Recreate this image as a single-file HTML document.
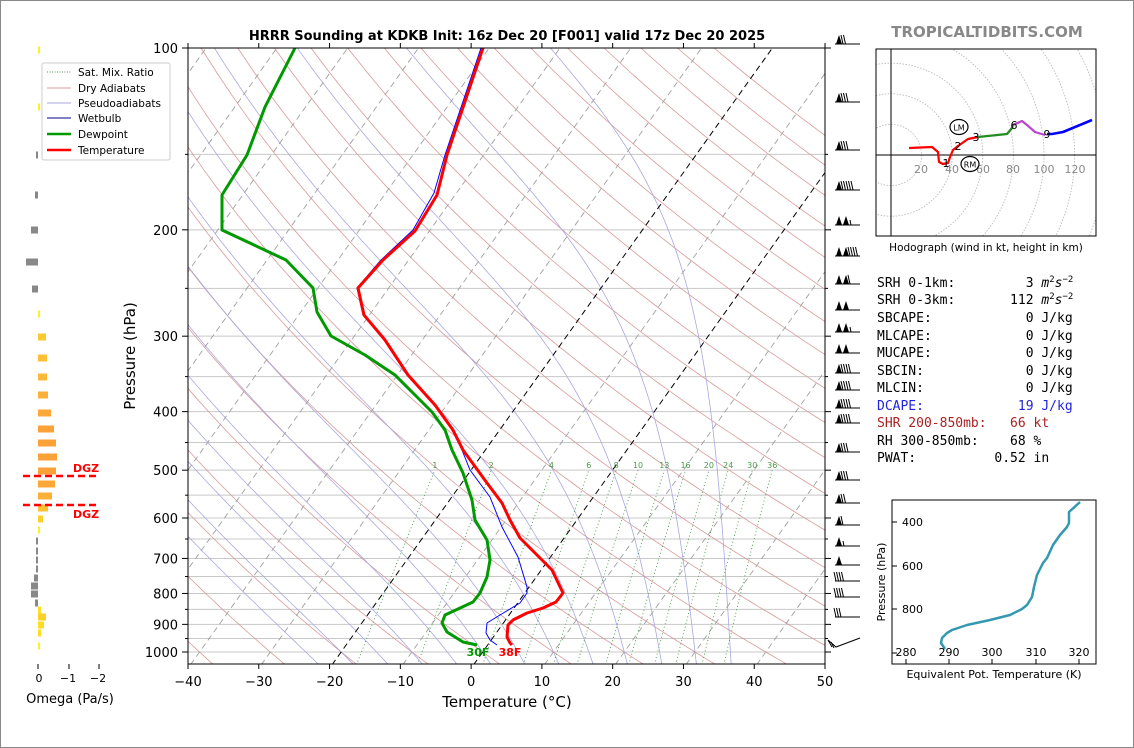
<!DOCTYPE html>
<html><head><meta charset="utf-8">
<style>
html,body{margin:0;padding:0;background:#fff;}
svg{display:block;font-family:"DejaVu Sans","Liberation Sans",sans-serif;}
.pre text{white-space:pre;}
</style></head>
<body>
<svg id="s" width="1134" height="748" viewBox="0 0 1134 748" xmlns="http://www.w3.org/2000/svg">
<rect x="0.5" y="0.5" width="1133" height="747" fill="#fff" stroke="#888" stroke-width="1"/>
<defs><clipPath id="cp"><rect x="188" y="48" width="637" height="616"/></clipPath>
<clipPath id="ch"><rect x="876" y="49" width="220" height="187"/></clipPath></defs>
<g id="bg" clip-path="url(#cp)"></g>
<g clip-path="url(#cp)" fill="none" stroke-linejoin="round">
<polyline stroke="#0000ff" stroke-width="1" points="481,48 445,155 434,193 413,230 381,260 357,288 363,315 384,340 407,375 434,405 452,430 462,450 470,470 490,497 502,527 518,557 527,587 527,593 520,603 500,615 487,623 486,633 490,640 497,645"/>
<polyline stroke="#009900" stroke-width="3" points="295,48 265,107 247,155 222,195 222,230 286,260 313,288 317,312 331,336 365,355 395,375 415,395 432,412 445,430 452,450 463,473 472,500 475,520 487,540 490,560 487,577 480,593 473,602 445,615 442,623 447,632 463,642 477,645"/>
<polyline stroke="#ff0000" stroke-width="3" points="483,48 447,155 437,195 415,231 383,260 358,288 364,315 385,340 408,375 435,405 453,430 463,450 487,483 502,503 510,520 520,538 535,553 552,570 563,593 556,602 543,608 527,613 513,620 508,625 507,637 510,643 512,645"/>
</g>
<text x="478" y="656" fill="#009900" font-size="11" font-weight="bold" text-anchor="middle">30F</text>
<text x="510" y="656" fill="#ff0000" font-size="11" font-weight="bold" text-anchor="middle">38F</text>
<rect x="188" y="48" width="637" height="616" fill="none" stroke="#000" stroke-width="1"/>
<g id="axes" font-size="13" fill="#000"></g>
<text x="507" y="40" font-size="13" font-weight="bold" text-anchor="middle">HRRR Sounding at KDKB Init: 16z Dec 20 [F001] valid 17z Dec 20 2025</text>
<text x="507" y="707" font-size="15" text-anchor="middle">Temperature (°C)</text>
<text transform="translate(135,356) rotate(-90)" font-size="15" text-anchor="middle">Pressure (hPa)</text>
<g font-size="10.5">
<rect x="42" y="63" width="128" height="97" rx="2" fill="#fff" stroke="#ccc"/>
<line x1="47" y1="72" x2="71" y2="72" stroke="#4a9a4a" stroke-dasharray="1,1.5"/><text x="78" y="76">Sat. Mix. Ratio</text>
<line x1="47" y1="88" x2="71" y2="88" stroke="#d8a0a0"/><text x="78" y="92">Dry Adiabats</text>
<line x1="47" y1="103" x2="71" y2="103" stroke="#a8a8e0"/><text x="78" y="107">Pseudoadiabats</text>
<line x1="47" y1="118" x2="71" y2="118" stroke="#000088"/><text x="78" y="122">Wetbulb</text>
<line x1="47" y1="134" x2="71" y2="134" stroke="#009900" stroke-width="2.5"/><text x="78" y="138">Dewpoint</text>
<line x1="47" y1="150" x2="71" y2="150" stroke="#ff0000" stroke-width="2.5"/><text x="78" y="154">Temperature</text>
</g>
<g id="omega"></g>
<g stroke="#ff0000" stroke-width="2.5" stroke-dasharray="7,4">
<line x1="23" y1="476" x2="98" y2="476"/><line x1="23" y1="505" x2="98" y2="505"/></g>
<text x="73" y="472" fill="#ff0000" font-size="11" font-weight="bold">DGZ</text>
<text x="73" y="518" fill="#ff0000" font-size="11" font-weight="bold">DGZ</text>
<g font-size="11" text-anchor="middle">
<line x1="38" y1="664" x2="38" y2="669" stroke="#000"/><line x1="69" y1="664" x2="69" y2="669" stroke="#000"/><line x1="99" y1="664" x2="99" y2="669" stroke="#000"/>
<text x="39" y="682">0</text><text x="68" y="682">−1</text><text x="98" y="682">−2</text></g>
<text x="70" y="703" font-size="13" text-anchor="middle">Omega (Pa/s)</text>
<g id="barbs"></g>
<text x="987" y="37" font-size="15" font-weight="bold" fill="#888" text-anchor="middle">TROPICALTIDBITS.COM</text>
<g id="hodo" clip-path="url(#ch)"></g>
<rect x="876" y="49" width="220" height="187" fill="none" stroke="#000"/>
<g font-size="11" fill="#888" text-anchor="middle"><text x="921" y="173">20</text><text x="952" y="173">40</text><text x="983" y="173">60</text><text x="1013" y="173">80</text><text x="1044" y="173">100</text><text x="1075" y="173">120</text></g>
<g fill="none" stroke-width="2.2" stroke-linejoin="round">
<polyline stroke="#ff0000" points="909,148 932,147 938,152 939,162 943,164 948,163 950,157 953,150 958,146 968,139 978,137"/>
<polyline stroke="#228b22" points="978,137 1007,134 1012,128 1013,125"/>
<polyline stroke="#bb44cc" points="1013,125 1022,121 1027,125 1035,132 1045,135"/>
<polyline stroke="#0000ff" stroke-width="2.6" points="1047,134 1052,134 1063,132 1092,120"/>
</g>
<g font-size="11" text-anchor="middle"><text x="946" y="167">1</text><text x="958" y="150">2</text><text x="976" y="141">3</text><text x="1014" y="129">6</text><text x="1047" y="138">9</text></g>
<ellipse cx="959" cy="127" rx="9" ry="7.5" fill="none" stroke="#000" stroke-width="1.2"/><text x="959" y="130.5" font-size="8" text-anchor="middle">LM</text>
<ellipse cx="970" cy="164" rx="9" ry="7.5" fill="none" stroke="#000" stroke-width="1.2"/><text x="970" y="167.5" font-size="8" text-anchor="middle">RM</text>
<text x="986" y="251" font-size="10.5" text-anchor="middle">Hodograph (wind in kt, height in km)</text>
<g class="pre" font-family="'DejaVu Sans Mono','Liberation Mono',monospace" font-size="13">
<text x="877" y="287">SRH 0-1km:         3 <tspan font-style="italic">m</tspan><tspan font-size="9" dy="-5">2</tspan><tspan dy="5" font-style="italic">s</tspan><tspan font-size="9" dy="-5">−2</tspan></text>
<text x="877" y="304">SRH 0-3km:       112 <tspan font-style="italic">m</tspan><tspan font-size="9" dy="-5">2</tspan><tspan dy="5" font-style="italic">s</tspan><tspan font-size="9" dy="-5">−2</tspan></text>
<text x="877" y="322">SBCAPE:            0 J/kg</text>
<text x="877" y="340">MLCAPE:            0 J/kg</text>
<text x="877" y="357">MUCAPE:            0 J/kg</text>
<text x="877" y="375">SBCIN:             0 J/kg</text>
<text x="877" y="392">MLCIN:             0 J/kg</text>
<text x="877" y="410" fill="#2222dd">DCAPE:            19 J/kg</text>
<text x="877" y="427" fill="#aa2222">SHR 200-850mb:   66 kt</text>
<text x="877" y="445">RH 300-850mb:    68 %</text>
<text x="877" y="462">PWAT:          0.52 in</text>
</g>
<rect x="892" y="500" width="204" height="164" fill="none" stroke="#000"/>
<polyline fill="none" stroke="#3399b0" stroke-width="2.5" stroke-linejoin="round" points="1080,502 1069,512 1069,523 1067,527 1060,535 1053,545 1047,558 1043,563 1037,575 1034,587 1032,597 1027,605 1022,609 1010,615 990,620 967,625 952,630 947,633 942,638 941,643 945,649"/>
<g font-size="11">
<line x1="892" y1="522" x2="897" y2="522" stroke="#000"/><line x1="892" y1="566" x2="897" y2="566" stroke="#000"/><line x1="892" y1="609" x2="897" y2="609" stroke="#000"/><line x1="892" y1="653" x2="897" y2="653" stroke="#000"/>
<text x="923" y="526" text-anchor="end">400</text><text x="923" y="570" text-anchor="end">600</text><text x="923" y="613" text-anchor="end">800</text>
<g text-anchor="middle"><text x="906" y="656">280</text><text x="949" y="656">290</text><text x="992" y="656">300</text><text x="1036" y="656">310</text><text x="1079" y="656">320</text></g>
<g stroke="#000"><line x1="906" y1="664" x2="906" y2="659"/><line x1="949" y1="664" x2="949" y2="659"/><line x1="992" y1="664" x2="992" y2="659"/><line x1="1036" y1="664" x2="1036" y2="659"/><line x1="1079" y1="664" x2="1079" y2="659"/></g>
<text x="994" y="678" text-anchor="middle">Equivalent Pot. Temperature (K)</text>
<text transform="translate(885,582) rotate(-90)" text-anchor="middle">Pressure (hPa)</text>
</g>
</svg>
<script>
(function(){
var NS="http://www.w3.org/2000/svg";
function el(p,t,a,txt){var e=document.createElementNS(NS,t);for(var k in a)e.setAttribute(k,a[k]);if(txt!=null)e.textContent=txt;p.appendChild(e);return e;}
function Y(p){return 48+604*Math.log10(p/100);}
function X(T,p){return 191+(T+40)*7.078+(664-Y(p))*0.714;}
var bg=document.getElementById('bg');
for(var p=100;p<=1000;p+=50){el(bg,'line',{x1:188,x2:825,y1:Y(p),y2:Y(p),stroke:'#c8c8c8','stroke-width':1});}
for(var t0=-60;t0<=200;t0+=10){var th=t0+273.15,pts=[];for(var q=1050;q>=100;q-=10){pts.push(X(th*Math.pow(q/1000,0.286)-273.15,q).toFixed(1)+','+Y(q).toFixed(1));}
el(bg,'polyline',{points:pts.join(' '),fill:'none',stroke:'#d89a9a','stroke-width':0.8});}
function es(T){return 6.112*Math.exp(17.67*T/(T+243.5));}
function dT(p,Tk){var Tc=Tk-273.15,e=es(Tc),r=0.622*e/(p-e);var Rd=287.04,Cp=1005.7,Lv=2.501e6;return (Rd*Tk+Lv*r)/(Cp+Lv*Lv*r*0.622/(Rd*Tk*Tk))/p;}
for(var m=-25;m<=35;m+=5){var Tk=m+273.15,up=[],dn=[],T=Tk,q;
for(q=1000;q>=100;q-=2){up.push(X(T-273.15,q).toFixed(1)+','+Y(q).toFixed(1));T-=dT(q,T)*2;}
T=Tk;for(q=1000;q<=1052;q+=2){dn.unshift(X(T-273.15,q).toFixed(1)+','+Y(q).toFixed(1));T+=dT(q,T)*2;}
el(bg,'polyline',{points:dn.concat(up).join(' '),fill:'none',stroke:'#a8a8e0','stroke-width':0.8});}
for(var t=-130;t<=60;t+=10){var c=(t==0||t==-20)?'#000':'#a0a0a0';el(bg,'line',{x1:X(t,1050),y1:Y(1050),x2:X(t,100),y2:Y(100),stroke:c,'stroke-width':(c=='#000'?1:0.9),'stroke-dasharray':'6,4'});}
var ws=[1,2,4,6,8,10,13,16,20,24,30,36];
ws.forEach(function(w){var pts=[];for(var q=1050;q>=500;q-=10){var e=w*q/(622+w),l=Math.log(e/6.112),Td=243.5*l/(17.67-l);pts.push(X(Td,q).toFixed(1)+','+Y(q).toFixed(1));}
el(bg,'polyline',{points:pts.join(' '),fill:'none',stroke:'#4a9a4a','stroke-width':0.9,'stroke-dasharray':'1,2.5'});
var e=w*500/(622+w),l=Math.log(e/6.112),Td=243.5*l/(17.67-l);el(bg,'text',{x:X(Td,500),y:468,'font-size':8,fill:'#4a9a4a','text-anchor':'middle'},String(w));});
var ax=document.getElementById('axes');
for(var T=-40;T<=50;T+=10){var x=188+(T+40)*7.078;el(ax,'line',{x1:x,x2:x,y1:664,y2:669,stroke:'#000'});el(ax,'line',{x1:x,x2:x,y1:48,y2:43,stroke:'#000'});el(ax,'text',{x:x,y:686,'text-anchor':'middle'},(T<0?'−'+(-T):String(T)));}
for(var p=100;p<=1000;p+=50){var y=Y(p),maj=(p%100==0);el(ax,'line',{x1:188,x2:maj?182:185,y1:y,y2:y,stroke:'#000'});el(ax,'line',{x1:825,x2:maj?831:828,y1:y,y2:y,stroke:'#000'});if(maj)el(ax,'text',{x:178,y:y+5,'text-anchor':'end'},String(p));}
var om=document.getElementById('omega');
var bars=[[50,38,40,'#ffee22'],[107,38,40,'#ffee22'],[155,36,38,'#888'],[195,35,38,'#888'],[230,31,38,'#888'],[262,26,38,'#888'],[289,32,38,'#888'],[314,38,40,'#ffee22'],[337,38,46,'#fcc830'],[358,38,47,'#fcbf35'],[377,38,47,'#fcb838'],[395,38,48,'#fcb038'],[413,38,51,'#fca838'],[429,38,54,'#fca038'],[443,38,56,'#fca038'],[457,38,57,'#fca038'],[471,38,56,'#fca038'],[484,38,55,'#fca838'],[496,38,52,'#fcb038'],[508,38,48,'#fcc030'],[519,38,43,'#fcd028'],[530,38,40,'#ffee22'],[541,36,38,'#888'],[551,36,38,'#888'],[560,36,38,'#888'],[569,36,38,'#888'],[578,34,38,'#888'],[586,31,38,'#888'],[594,31,38,'#888'],[603,35,38,'#888'],[610,38,41,'#ffdd22'],[617,38,46,'#fcd028'],[625,38,44,'#ffdd22'],[633,38,41,'#ffdd22'],[646,38,40,'#ffee22']];
bars.forEach(function(b){el(om,'rect',{x:b[1],y:b[0]-3.5,width:b[2]-b[1],height:7,fill:b[3]});});
var g=document.getElementById('barbs');
var bb=[[44,1,2,0],[102,1,3,0],[150,1,3,0],[190,1,5,0],[225,2,0,1],[256,2,4,0],[284,2,1,0],[310,2,0,0],[332,2,0,1],[353,2,0,0],[373,1,4,0],[390,1,4,0],[408,1,4,0],[423,1,4,0],[452,1,3,0],[480,1,3,0],[503,1,2,0],[525,1,1,0],[546,1,0,1],[565,1,0,0],[581,0,4,0],[597,0,4,0],[617,0,3,0]];
bb.forEach(function(b){var y=b[0],x=836;el(g,'line',{x1:835,x2:860,y1:y,y2:y,stroke:'#000','stroke-width':1});
for(var i=0;i<b[1];i++){el(g,'polygon',{points:x+','+y+' '+(x+3)+','+(y-9)+' '+(x+6)+','+y,fill:'#000'});x+=7;}
for(var i=0;i<b[2];i++){el(g,'line',{x1:x,y1:y,x2:x-2,y2:y-9,stroke:'#000','stroke-width':1});x+=2.5;}
for(var i=0;i<b[3];i++){el(g,'line',{x1:x+1,y1:y,x2:x,y2:y-5,stroke:'#000','stroke-width':1});}});
el(g,'polyline',{points:'828,640 836,647 860,638',fill:'none',stroke:'#000','stroke-width':1});
el(g,'line',{x1:828,y1:640,x2:832,y2:647,stroke:'#000'});el(g,'line',{x1:831,y1:642,x2:834,y2:648,stroke:'#000'});
var h=document.getElementById('hodo');
for(var r=1;r<=7;r++){el(h,'circle',{cx:891,cy:155,r:r*30.6,fill:'none',stroke:'#bbb','stroke-width':0.9,'stroke-dasharray':'1.5,1.5'});}
el(h,'line',{x1:891,x2:891,y1:49,y2:236,stroke:'#000'});el(h,'line',{x1:876,x2:1096,y1:155,y2:155,stroke:'#000'});
})();
</script>
</body></html>
